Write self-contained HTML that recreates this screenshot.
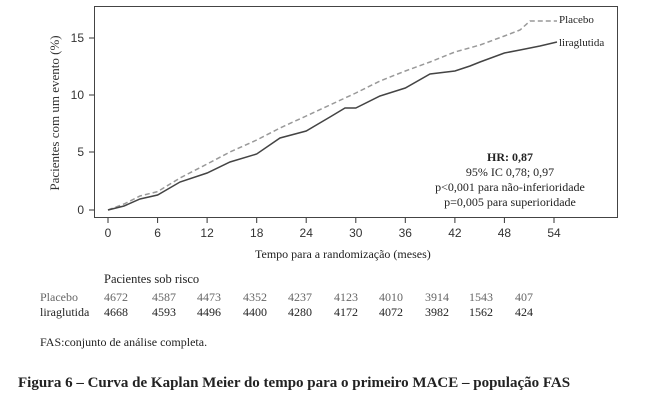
<!DOCTYPE html>
<html><head><meta charset="utf-8"><style>
body{margin:0;background:#fff;width:663px;height:400px;overflow:hidden;position:relative;font-family:"Liberation Serif",serif;color:#222}
.t{position:absolute;white-space:nowrap}
</style></head><body>
<svg width="663" height="400" style="position:absolute;left:0;top:0">
<rect x="94.5" y="6.5" width="523" height="211" fill="none" stroke="#444" stroke-width="1"/>
<g stroke="#333" stroke-width="1">
<line x1="94" y1="38" x2="89" y2="38"/><line x1="94" y1="95" x2="89" y2="95"/><line x1="94" y1="152" x2="89" y2="152"/><line x1="94" y1="210" x2="89" y2="210"/>
<line x1="108" y1="218" x2="108" y2="223"/><line x1="157.6" y1="218" x2="157.6" y2="223"/><line x1="207.1" y1="218" x2="207.1" y2="223"/><line x1="256.7" y1="218" x2="256.7" y2="223"/><line x1="306.2" y1="218" x2="306.2" y2="223"/><line x1="355.8" y1="218" x2="355.8" y2="223"/><line x1="405.3" y1="218" x2="405.3" y2="223"/><line x1="454.9" y1="218" x2="454.9" y2="223"/><line x1="504.4" y1="218" x2="504.4" y2="223"/><line x1="554" y1="218" x2="554" y2="223"/>
</g>
<g font-family="Liberation Sans, sans-serif" font-size="12" fill="#333" text-anchor="end">
<text x="84" y="42">15</text><text x="84" y="99">10</text><text x="84" y="156">5</text><text x="84" y="214">0</text>
</g>
<g font-family="Liberation Sans, sans-serif" font-size="12" fill="#333" text-anchor="middle">
<text x="108" y="237">0</text><text x="157.6" y="237">6</text><text x="207.1" y="237">12</text><text x="256.7" y="237">18</text><text x="306.2" y="237">24</text><text x="355.8" y="237">30</text><text x="405.3" y="237">36</text><text x="454.9" y="237">42</text><text x="504.4" y="237">48</text><text x="554" y="237">54</text>
</g>
<polyline fill="none" stroke="#999" stroke-width="1.5" stroke-dasharray="5,3" points="108,210 124,204 140,196 157.6,191.6 180,178 207.1,164 230,152 256.7,140 280,128 306.2,116 330,105 355.8,93 380,81 405.3,71 430,62 454.9,52 480,45 504.4,36 520,30 530,21 540,21 557,21"/>
<polyline fill="none" stroke="#444" stroke-width="1.5" points="108,210 124,206 140,199 157.6,195 180,182 207.1,173 230,162 256.7,154 280,138 306.2,131 330,117 345,108 355.8,108 380,96 405.3,88 430,74 454.9,71 470,66 480,62 504.4,53 520,50 540,46 557,42"/>
<text transform="translate(59,113) rotate(-90)" text-anchor="middle" font-size="13" fill="#333">Pacientes com um evento (%)</text>
</svg>
<div class="t" style="left:559px;top:14px;font-size:11px">Placebo</div>
<div class="t" style="left:559px;top:37px;font-size:11px">liraglutida</div>
<div class="t" style="left:430px;top:150px;width:160px;text-align:center;font-size:12px;line-height:15px"><b>HR: 0,87</b><br>95% IC 0,78; 0,97<br>p&lt;0,001 para não-inferioridade<br>p=0,005 para superioridade</div>
<div class="t" style="left:255px;top:247px;font-size:12px">Tempo para a randomização (meses)</div>
<div class="t" style="left:104px;top:272px;font-size:12.5px">Pacientes sob risco</div>
<div class="t" style="left:40px;top:290px;font-size:12px;color:#666">Placebo</div>
<div class="t" style="left:40px;top:305px;font-size:12px">liraglutida</div>
<div class="t" style="top:290px;left:0;font-size:12px;color:#666">
<span class="t" style="left:104px">4672</span><span class="t" style="left:152px">4587</span><span class="t" style="left:197px">4473</span><span class="t" style="left:243px">4352</span><span class="t" style="left:288px">4237</span><span class="t" style="left:334px">4123</span><span class="t" style="left:379px">4010</span><span class="t" style="left:425px">3914</span><span class="t" style="left:469px">1543</span><span class="t" style="left:515px">407</span></div>
<div class="t" style="top:305px;left:0;font-size:12px">
<span class="t" style="left:104px">4668</span><span class="t" style="left:152px">4593</span><span class="t" style="left:197px">4496</span><span class="t" style="left:243px">4400</span><span class="t" style="left:288px">4280</span><span class="t" style="left:334px">4172</span><span class="t" style="left:379px">4072</span><span class="t" style="left:425px">3982</span><span class="t" style="left:469px">1562</span><span class="t" style="left:515px">424</span></div>
<div class="t" style="left:40px;top:335px;font-size:12px">FAS:conjunto de análise completa.</div>
<div class="t" style="left:18px;top:375px;font-size:15px;font-weight:bold">Figura 6 – Curva de Kaplan Meier do tempo para o primeiro MACE – população FAS</div>
</body></html>
